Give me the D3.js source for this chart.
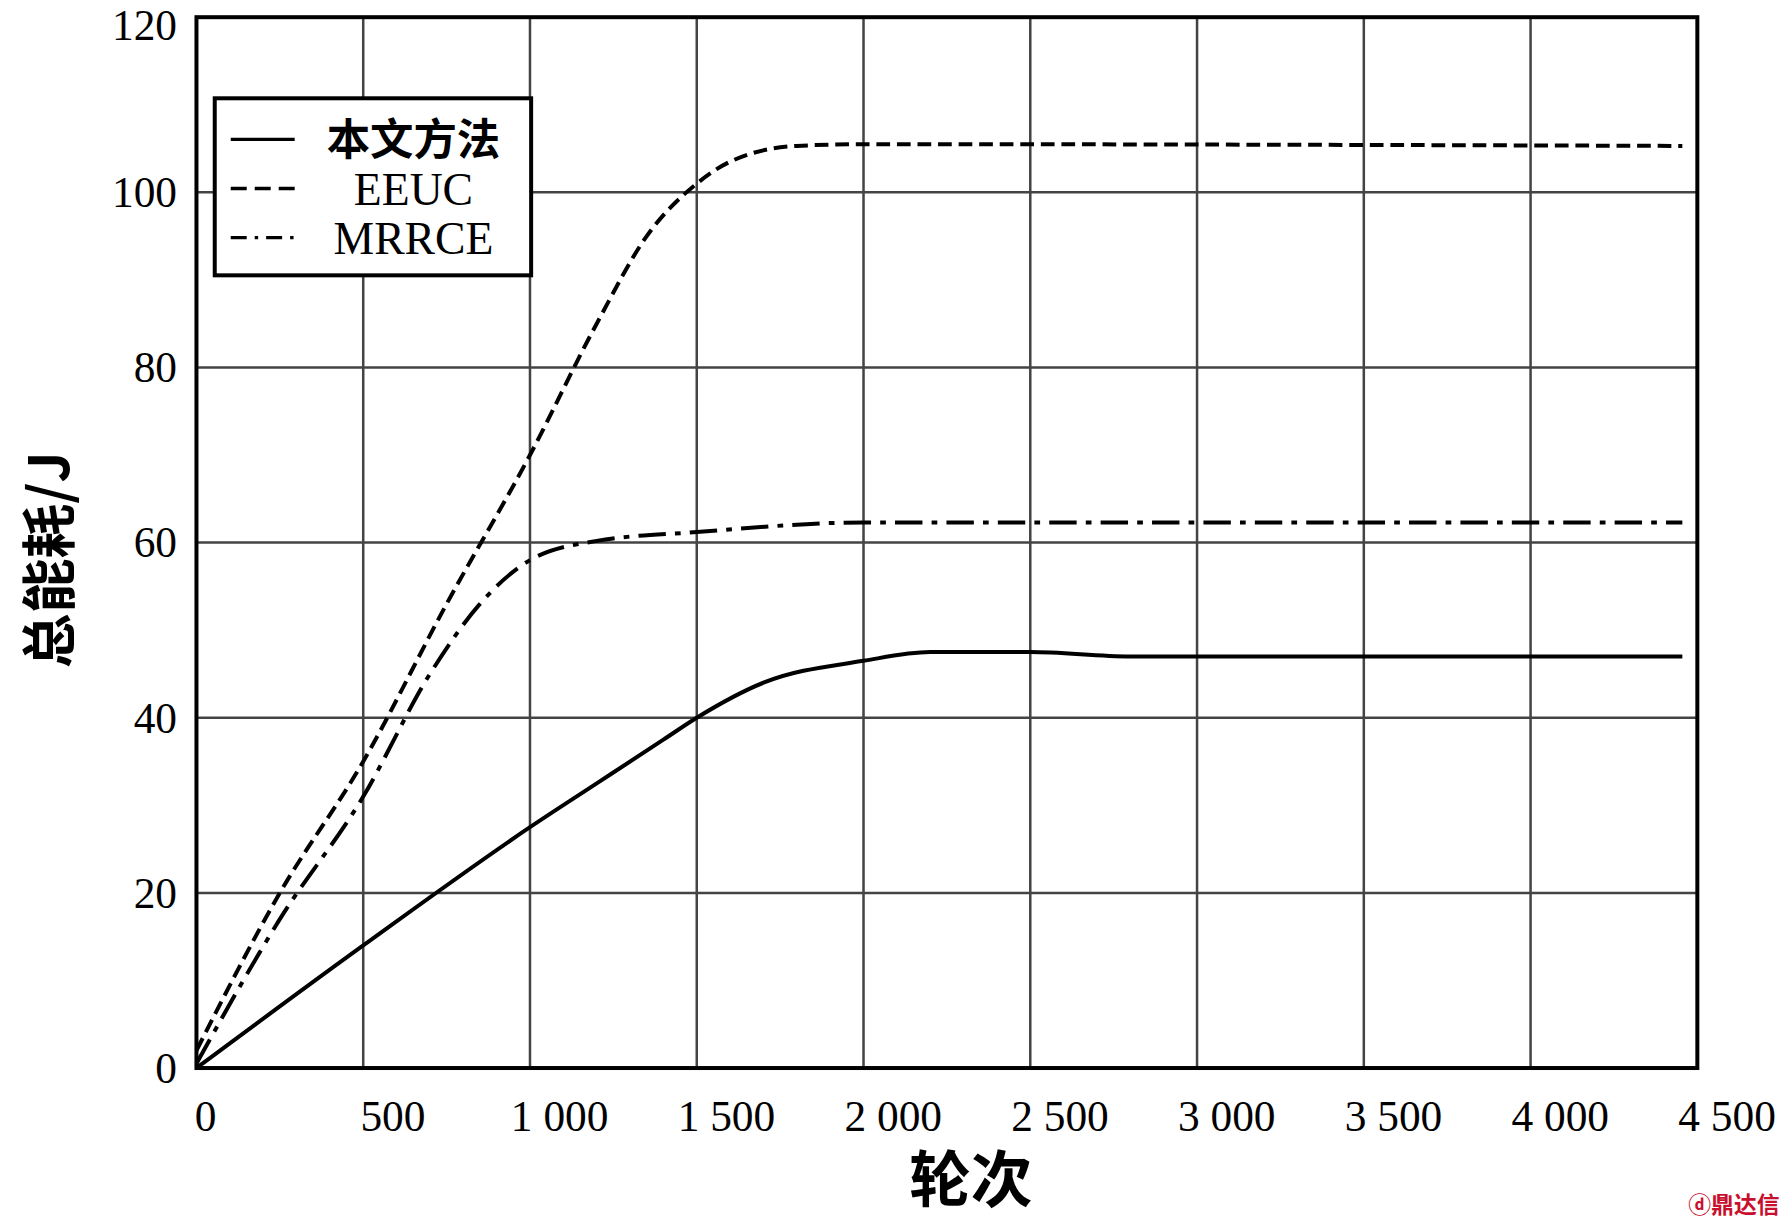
<!DOCTYPE html>
<html><head><meta charset="utf-8">
<script src="https://cdn.jsdelivr.net/npm/d3@7"></script>
<style>body{margin:0;background:#fff}</style>
</head><body>
<script>
const xTicks = [0, 500, 1000, 1500, 2000, 2500, 3000, 3500, 4000, 4500];
const xTickLabels = ['0', '500', '1 000', '1 500', '2 000', '2 500', '3 000', '3 500', '4 000', '4 500'];
const yTicks = [0, 20, 40, 60, 80, 100, 120];
const seriesNames = ['本文方法', 'EEUC', 'MRRCE'];
const oursX = [0, 500, 1000, 1200, 1400, 1500, 1700, 2000, 2200, 2500, 2800, 4455];
const oursY = [0, 14, 27.5, 32.5, 37.5, 40, 44, 46.5, 47.5, 47.5, 47, 47];
const eeucX = [0, 250, 500, 750, 1000, 1200, 1350, 1500, 1600, 1800, 2000, 4455];
const eeucY = [2, 20, 35, 53, 70, 85, 95, 101, 103.5, 105.3, 105.5, 105.3];
const mrrceX = [0, 250, 500, 700, 850, 1000, 1200, 1500, 2000, 4455];
const mrrceY = [0.5, 17, 31, 45, 53, 58, 60.2, 61.2, 62.3, 62.3];

const svg = d3.select('body').append('svg').attr('width', 1791).attr('height', 1228)
  .attr('viewBox', '0 0 1568 1075');
const L = 172, R = 1486, T = 15, B = 935;
const x = d3.scaleLinear().domain([0, 4500]).range([L, R]);
const y = d3.scaleLinear().domain([0, 120]).range([B, T]);
const serif = 'Liberation Serif, Times New Roman, serif';

// grid
svg.append('g').selectAll('line').data(xTicks.slice(1, -1)).join('line')
  .attr('x1', d => x(d)).attr('x2', d => x(d)).attr('y1', T).attr('y2', B)
  .attr('stroke', '#444').attr('stroke-width', 2.2);
svg.append('g').selectAll('line').data(yTicks.slice(1, -1)).join('line')
  .attr('y1', d => y(d)).attr('y2', d => y(d)).attr('x1', L).attr('x2', R)
  .attr('stroke', '#444').attr('stroke-width', 2.2);

// tick labels
svg.append('g').selectAll('text').data(xTicks).join('text')
  .attr('x', (d, i) => i === 0 ? x(d) + 8 : x(d) + 26).attr('y', 990)
  .attr('text-anchor', 'middle').style('font-family', serif).style('font-size', '38px')
  .text((d, i) => xTickLabels[i]);
svg.append('g').selectAll('text').data(yTicks).join('text')
  .attr('x', 155).attr('y', d => Math.max(y(d) + 13, 35)).attr('text-anchor', 'end')
  .style('font-family', serif).style('font-size', '38px').text(d => d);

const line = d3.line().curve(d3.curveMonotoneX);
const mk = (xs, ys) => xs.map((v, i) => [x(v), y(ys[i])]);
const styles = [
  { d: mk(oursX, oursY), dash: null },
  { d: mk(eeucX, eeucY), dash: '12 6' },
  { d: mk(mrrceX, mrrceY), dash: '24 8 5 8' },
];
styles.forEach(s => {
  svg.append('path').attr('d', line(s.d)).attr('fill', 'none').attr('stroke', '#000')
    .attr('stroke-width', 3.5).attr('stroke-dasharray', s.dash);
});

// frame
svg.append('rect').attr('x', L).attr('y', T).attr('width', R - L).attr('height', B - T)
  .attr('fill', 'none').attr('stroke', '#000').attr('stroke-width', 3.5);

// legend
const lg = svg.append('g');
lg.append('rect').attr('x', 188).attr('y', 86).attr('width', 277).attr('height', 155)
  .attr('fill', '#fff').attr('stroke', '#000').attr('stroke-width', 3.5);
styles.forEach((s, i) => {
  const ly = 122 + i * 43;
  lg.append('line').attr('x1', 202).attr('x2', 258).attr('y1', ly).attr('y2', ly)
    .attr('stroke', '#000').attr('stroke-width', 3).attr('stroke-dasharray', i === 2 ? '14 7 3 7' : s.dash ? '14 7' : null);
  lg.append('text').attr('x', 362).attr('y', ly + 14).attr('text-anchor', 'middle')
    .style('font-family', i === 0 ? 'Noto Sans CJK SC' : serif).style('font-size', i === 0 ? '38px' : '40px')
    .style('font-weight', i === 0 ? 'bold' : 'normal').text(seriesNames[i]);
});

// axis titles
svg.append('text').attr('x', 850).attr('y', 1052).attr('text-anchor', 'middle')
  .style('font-family', 'Noto Sans CJK SC').style('font-weight', 'bold').style('font-size', '54px').text('轮次');
svg.append('text').attr('transform', 'translate(60,490) rotate(-90)').attr('text-anchor', 'middle')
  .style('font-family', 'Noto Sans CJK SC').style('font-weight', 'bold').style('font-size', '48px').text('总能耗/J');

// watermark
svg.append('text').attr('x', 1558).attr('y', 1062).attr('text-anchor', 'end')
  .style('font-family', 'Noto Sans CJK SC').style('font-weight', 'bold').style('font-size', '20px')
  .style('fill', '#c8102e').text('ⓓ鼎达信');
</script>
</body></html>
